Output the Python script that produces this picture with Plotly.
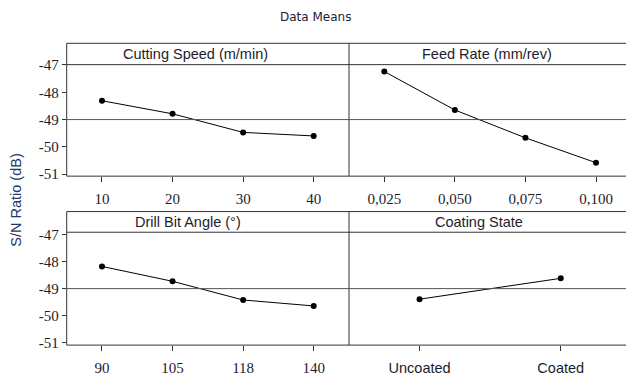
import plotly.graph_objects as go

W, H = 626, 376

# ---- data ----
speed_labels = ["10", "20", "30", "40"]
speed_sn = [-48.31, -48.79, -49.47, -49.60]

feed_labels = ["0,025", "0,050", "0,075", "0,100"]
feed_sn = [-47.24, -48.65, -49.67, -50.58]

angle_labels = ["90", "105", "118", "140"]
angle_sn = [-48.18, -48.73, -49.42, -49.64]

coat_labels = ["Uncoated", "Coated"]
coat_sn = [-49.39, -48.62]

panel_titles = ["Cutting Speed (m/min)", "Feed Rate (mm/rev)", "Drill Bit Angle (°)", "Coating State"]
yticks = [-47, -48, -49, -50, -51]
grand_mean = -49.0

# ---- layout geometry (pixels) ----
xL0, xMid, xR1 = 66.7, 349.0, 626.0
top_y0, top_y1 = 44.0, 179.0
bot_y0, bot_y1 = 215.0, 350.7
top_strip, bot_strip = 65.7, 236.0

def fx(px):
    return px / W

def fy(py):
    return 1 - py / H

fig = go.Figure()

panels = [
    dict(labels=speed_labels, vals=speed_sn, xd=(xL0, xMid), yd=(top_y0, top_y1), yr=[-51.072, -46.207], left=True),
    dict(labels=feed_labels, vals=feed_sn, xd=(xMid, xR1), yd=(top_y0, top_y1), yr=[-51.072, -46.207], left=False),
    dict(labels=angle_labels, vals=angle_sn, xd=(xL0, xMid), yd=(bot_y0, bot_y1), yr=[-51.087, -46.153], left=True),
    dict(labels=coat_labels, vals=coat_sn, xd=(xMid, xR1), yd=(bot_y0, bot_y1), yr=[-51.087, -46.153], left=False),
]

full_w = xMid - xL0
tick_font = dict(family="Liberation Serif", size=15, color="#241c2c")
for i, p in enumerate(panels):
    n = len(p["labels"])
    pos = list(range(1, n + 1))
    unit = full_w / n
    width_px = p["xd"][1] - p["xd"][0]
    xr = [0.5, 0.5 + width_px / unit]
    suffix = "" if i == 0 else str(i + 1)
    fig.add_trace(go.Scatter(
        x=pos, y=p["vals"], mode="lines+markers",
        line=dict(color="black", width=1),
        marker=dict(color="black", size=6),
        xaxis="x" + suffix, yaxis="y" + suffix, showlegend=False,
        hoverinfo="skip"))
    xa = dict(domain=[fx(p["xd"][0]), fx(p["xd"][1])], range=xr,
              tickmode="array", tickvals=pos, ticktext=p["labels"],
              ticks="outside", ticklen=5, tickcolor="#333", tickwidth=1,
              ticklabelstandoff=4,
              showgrid=False, zeroline=False, showline=False,
              anchor="y" + suffix,
              tickfont=(tick_font if i != 3 else dict(family="Liberation Sans", size=14.5, color="#1c1c2a")))
    ya = dict(domain=[fy(p["yd"][1]), fy(p["yd"][0])], range=p["yr"],
              tickmode="array", tickvals=yticks, ticktext=[str(v) for v in yticks],
              ticks="outside" if p["left"] else "", ticklen=4, tickcolor="#333", tickwidth=1,
              showticklabels=p["left"], showgrid=False, zeroline=False, showline=False,
              anchor="x" + suffix, tickfont=tick_font)
    fig.layout["xaxis" + suffix] = xa
    fig.layout["yaxis" + suffix] = ya

shapes = []
line_style = dict(color="#333333", width=1)

def hline(py, x0=xL0, x1=xR1, color="#333333"):
    shapes.append(dict(type="line", xref="paper", yref="paper",
                       x0=fx(x0), x1=fx(x1), y0=fy(py), y1=fy(py),
                       line=dict(color=color, width=1)))

def vline(px, y0, y1):
    shapes.append(dict(type="line", xref="paper", yref="paper",
                       x0=fx(px), x1=fx(px), y0=fy(y0), y1=fy(y1), line=line_style))

for (y0, y1, ys) in [(top_y0, top_y1, top_strip), (bot_y0, bot_y1, bot_strip)]:
    hline(y0)
    hline(y1)
    hline(ys)
    vline(xL0, y0, y1)
    vline(xMid, y0, y1)

# grand mean reference lines
for yref in ["y", "y3"]:
    shapes.append(dict(type="line", xref="paper", yref=yref, x0=fx(xL0), x1=fx(xR1),
                       y0=grand_mean, y1=grand_mean, line=dict(color="#555555", width=1)))

annotations = []
strip_centers = [(195, (top_y0 + top_strip) / 2), (487, (top_y0 + top_strip) / 2),
                 (188, (bot_y0 + bot_strip) / 2), (479, (bot_y0 + bot_strip) / 2)]
for t, (cx, cy) in zip(panel_titles, strip_centers):
    annotations.append(dict(text=t, x=fx(cx), y=fy(cy), xref="paper", yref="paper",
                            showarrow=False, xanchor="center", yanchor="middle",
                            font=dict(family="Liberation Sans", size=14.5, color="#1c1c2a")))

annotations.append(dict(text="Data Means", x=fx(315), y=fy(17), xref="paper", yref="paper",
                        showarrow=False, xanchor="center", yanchor="middle",
                        font=dict(family="DejaVu Sans", size=12, color="#1a1a3a")))
annotations.append(dict(text="S/N Ratio (dB)", x=fx(16), y=fy(204), xref="paper", yref="paper",
                        showarrow=False, textangle=-90, xanchor="center", yanchor="middle",
                        font=dict(family="Liberation Sans", size=14.5, color="#22386a")))

fig.update_layout(width=W, height=H, margin=dict(l=0, r=0, t=0, b=0),
                  paper_bgcolor="white", plot_bgcolor="white",
                  shapes=shapes, annotations=annotations)

fig.write_html("out.html")
